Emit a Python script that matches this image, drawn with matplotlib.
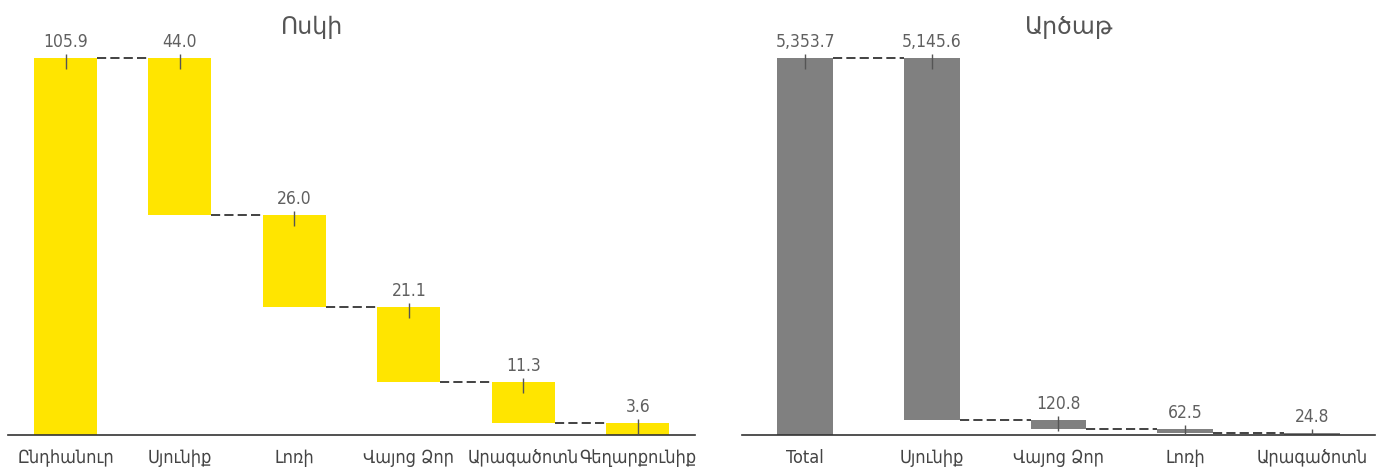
import numpy as np
import matplotlib.pyplot as plt
from matplotlib.path import Path

plt.rcParams['font.family'] = ['DejaVu Sans']
plt.rcParams['font.stretch'] = 'condensed'

# gold
gold_labels = ["Ընդհանուր", "Սյունիք", "Լոռի", "Վայոց Ձոր", "Արագածոտն", "Գեղարքունիք"]
gold_total = 105.9
gold_parts = [44.0, 26.0, 21.1, 11.3, 3.6]

# silver
silver_labels = ["Total", "Սյունիք", "Վայոց Ձոր", "Լոռի", "Արագածոտն"]
silver_total = 5353.7
silver_parts = [5145.6, 120.8, 62.5, 24.8]

tickmark = Path([(0, 4), (0, -11)])


def waterfall(ax, labels, total, parts, color, width, fmt, title, tx):
  tops = [total]
  bottoms = [0]
  level = total
  for p in parts:
    tops.append(level)
    level = level - p
    bottoms.append(max(level, 0))
  vals = [total] + parts
  x = np.arange(len(labels))
  ax.bar(x, np.array(tops) - np.array(bottoms), bottom=bottoms, width=width,
         color=color, zorder=2)
  # dashed connectors
  for i in range(len(labels) - 1):
    y = bottoms[i] if i > 0 else tops[0]
    ax.plot([x[i] + width / 2, x[i + 1] - width / 2], [y, y], ls=(0, (5.5, 2.5)),
            color="#222222", lw=1.2, zorder=1)
  # value labels + little tick
  for i in range(len(labels)):
    ax.plot(x[i], tops[i], marker=tickmark, markersize=16, mew=1,
            color="#555555", zorder=3)
    ax.annotate(fmt.format(vals[i]), xy=(x[i], tops[i]), xytext=(0, 5),
                textcoords="offset points", ha="center", va="bottom",
                fontsize=12.5, color="#606060")
  ax.set_xticks(x)
  ax.set_xticklabels(labels, fontsize=13, color="#444444")
  ax.tick_params(axis="x", length=0, pad=10)
  ax.set_yticks([])
  ax.set_xlim(-0.5, len(labels) - 0.5)
  ax.set_ylim(0, total * 395 / 377)
  for s in ["top", "right", "left"]:
    ax.spines[s].set_visible(False)
  ax.spines["bottom"].set_color("#333333")
  ax.spines["bottom"].set_linewidth(1.2)
  ax.set_title(title, x=tx, y=1.0, pad=4, fontsize=17, color="#555555",
               fontstretch="normal")


fig = plt.figure(figsize=(13.83, 4.70), dpi=100)
ax1 = fig.add_axes([0.006, 0.0745, 0.4965, 0.8405])
ax2 = fig.add_axes([0.5365, 0.0745, 0.4577, 0.8405])

waterfall(ax1, gold_labels, gold_total, gold_parts, "#FFE500", 0.55, "{:.1f}", "Ոսկի", 0.443)
waterfall(ax2, silver_labels, silver_total, silver_parts, "#808080", 0.44, "{:,.1f}", "Արծաթ", 0.517)

fig.savefig("out.png", dpi=100)
